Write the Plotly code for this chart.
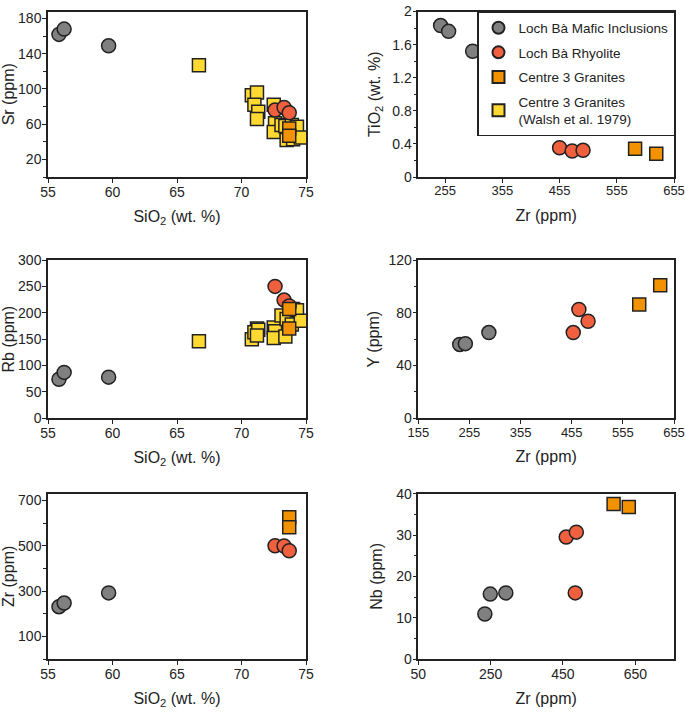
import plotly.graph_objects as go

# ---------------- data ----------------
# Loch Bà mafic inclusions
mafic_sio2 = [55.85, 56.25, 59.7]
mafic_sr = [162, 168, 149]
mafic_rb = [74, 87, 78]
mafic_zr = [231, 247, 292]
mafic_zr_ti = [247, 261, 303]
mafic_tio2 = [1.83, 1.76, 1.52]
mafic_zr_y = [236, 247, 293]
mafic_y = [56.0, 56.6, 65.0]
mafic_zr_nb = [234, 249, 292]
mafic_nb = [10.9, 15.7, 16.0]

# Loch Bà rhyolite
rhy_sio2 = [72.6, 73.3, 73.7]
rhy_sr = [76, 79, 73]
rhy_rb = [250, 224, 213]
rhy_zr = [500, 499, 478]
rhy_zr_ti = [455, 477, 496]
rhy_tio2 = [0.354, 0.314, 0.322]
rhy_zr_y = [458, 469, 487]
rhy_y = [65.0, 82.5, 73.6]
rhy_zr_nb = [459, 487, 484]
rhy_nb = [29.5, 30.7, 16.0]

# Centre 3 granites
c3_sio2 = [73.7, 73.7]
c3_sr = [55, 47]
c3_rb = [207, 170]
c3_zr = [626, 582]
c3_zr_ti = [587, 624]
c3_tio2 = [0.342, 0.282]
c3_zr_y = [587, 628]
c3_y = [86.3, 100.8]
c3_zr_nb = [590, 632]
c3_nb = [37.5, 36.8]

# Centre 3 granites (Walsh et al. 1979)
walsh_sio2 = [66.7, 70.8, 71.2, 71.0, 71.3, 71.2, 72.5, 72.6, 72.5, 73.1,
              73.4, 73.5, 73.9, 74.0, 74.3, 74.6]
walsh_sr = [127, 93, 96, 82, 74, 66, 82, 61, 51, 59, 58, 42, 59, 43, 57, 45]
walsh_rb = [146, 150, 170, 163, 168, 157, 172, 165, 152, 195, 155, 188, 178,
            207, 205, 185]

names = ["Loch Bà Mafic Inclusions", "Loch Bà Rhyolite", "Centre 3 Granites",
         "Centre 3 Granites<br>(Walsh et al. 1979)"]

# ---------------- styling ----------------
INK = "#222222"
FONT = "Liberation Sans, Arial, sans-serif"
styles = {
    "mafic": dict(symbol="circle", size=14, color="#808080"),
    "rhy": dict(symbol="circle", size=14, color="#F0603F"),
    "c3": dict(symbol="square", size=13, color="#F39200"),
    "walsh": dict(symbol="square", size=13, color="#FFD932"),
}
rank = {"mafic": 1, "rhy": 2, "c3": 3, "walsh": 4}
label = {"mafic": names[0], "rhy": names[1], "c3": names[2], "walsh": names[3]}

fig = go.Figure()


def add(key, xs, ys, ax, legend=False):
    s = styles[key]
    fig.add_trace(go.Scatter(
        x=xs, y=ys, mode="markers", name=label[key],
        legendgroup=key, legendrank=rank[key], showlegend=legend,
        xaxis="x" + ax, yaxis="y" + ax,
        marker=dict(symbol=s["symbol"], size=s["size"], color=s["color"],
                    line=dict(color=INK, width=1.5)),
    ))


# panel 1: Sr vs SiO2
add("walsh", walsh_sio2, walsh_sr, "", True)
add("mafic", mafic_sio2, mafic_sr, "", True)
add("rhy", rhy_sio2, rhy_sr, "", True)
add("c3", c3_sio2, c3_sr, "", True)
# panel 2: TiO2 vs Zr
add("mafic", mafic_zr_ti, mafic_tio2, "2")
add("rhy", rhy_zr_ti, rhy_tio2, "2")
add("c3", c3_zr_ti, c3_tio2, "2")
# panel 3: Rb vs SiO2
add("walsh", walsh_sio2, walsh_rb, "3")
add("mafic", mafic_sio2, mafic_rb, "3")
add("rhy", rhy_sio2, rhy_rb, "3")
add("c3", c3_sio2, c3_rb, "3")
# panel 4: Y vs Zr
add("mafic", mafic_zr_y, mafic_y, "4")
add("rhy", rhy_zr_y, rhy_y, "4")
add("c3", c3_zr_y, c3_y, "4")
# panel 5: Zr vs SiO2
add("mafic", mafic_sio2, mafic_zr, "5")
add("rhy", rhy_sio2, rhy_zr, "5")
add("c3", c3_sio2, c3_zr, "5")
# panel 6: Nb vs Zr
add("mafic", mafic_zr_nb, mafic_nb, "6")
add("rhy", rhy_zr_nb, rhy_nb, "6")
add("c3", c3_zr_nb, c3_nb, "6")

W, H = 685, 714
ML, MR, MT, MB = 48, 10, 11, 55
PW, PH = W - ML - MR, H - MT - MB


def xdom(a, b):
    return [(a - ML) / PW, (b - ML) / PW]


def ydom(top, bottom):
    return [max(0, (H - MB - bottom) / PH), min(1, (H - MB - top) / PH)]


colL, colR = xdom(48, 306), xdom(418.3, 674)
row1, row2, row3 = ydom(11.5, 177), ydom(260, 418.3), ydom(493.7, 659)


def axis(dom, rng, title, tick0, dtick, anchor, standoff, minor=None,
         xax=True, tsize=14):
    d = dict(domain=dom, range=rng, anchor=anchor,
             title=dict(text=title, font=dict(size=16, color=INK, family=FONT),
                        standoff=standoff),
             tickmode="linear", tick0=tick0, dtick=dtick,
             ticks="outside", ticklen=4, tickwidth=1.2, tickcolor=INK,
             tickfont=dict(size=tsize, color=INK, family=FONT),
             ticklabelstandoff=-3 if xax else -2,
             ticklabeloverflow="allow",
             showline=True, linewidth=1.5, linecolor=INK, mirror=True,
             showgrid=False, zeroline=False, automargin=False)
    if minor:
        d["minor"] = dict(dtick=minor, tick0=0, ticks="outside", ticklen=3,
                          tickwidth=1.2, tickcolor=INK, showgrid=False)
    return d


SIO2 = "SiO<sub>2</sub> (wt. %)"
ZR = "Zr (ppm)"

fig.update_layout(
    width=W, height=H,
    margin=dict(l=ML, r=MR, t=MT, b=MB),
    paper_bgcolor="white", plot_bgcolor="white",
    font=dict(family=FONT, color=INK),
    xaxis=axis(colL, [55, 75], SIO2, 55, 5, "y", 12),
    yaxis=axis(row1, [0, 188], "Sr (ppm)", 20, 40, "x", 1, minor=20, xax=False),
    xaxis2=axis(colR, [208, 655], ZR, 255, 100, "y2", 12, tsize=13),
    yaxis2=axis(row1, [0, 2], "TiO<sub>2</sub> (wt. %)", 0, 0.4, "x2", 8,
                minor=0.2, xax=False),
    xaxis3=axis(colL, [55, 75], SIO2, 55, 5, "y3", 12),
    yaxis3=axis(row2, [0, 300], "Rb (ppm)", 0, 50, "x3", 1, xax=False),
    xaxis4=axis(colR, [155, 655], ZR, 155, 100, "y4", 12, tsize=13),
    yaxis4=axis(row2, [0, 120], "Y (ppm)", 0, 40, "x4", 5, minor=20, xax=False),
    xaxis5=axis(colL, [55, 75], SIO2, 55, 5, "y5", 12),
    yaxis5=axis(row3, [0, 730], "Zr (ppm)", 100, 200, "x5", 2, minor=100, xax=False),
    xaxis6=axis(colR, [50, 757], ZR, 50, 200, "y6", 12),
    yaxis6=axis(row3, [0, 40], "Nb (ppm)", 0, 10, "x6", 10, minor=5, xax=False),
    legend=dict(x=1, y=1, xanchor="right", yanchor="top",
                bgcolor="white", bordercolor=INK, borderwidth=1.5,
                font=dict(size=13.5, color=INK, family=FONT),
                tracegroupgap=4, itemsizing="constant"),
)

fig.write_html("out.html",
               config={"displayModeBar": False},
               post_script="document.body.style.margin='0';"
                           "document.body.style.overflow='hidden';")
